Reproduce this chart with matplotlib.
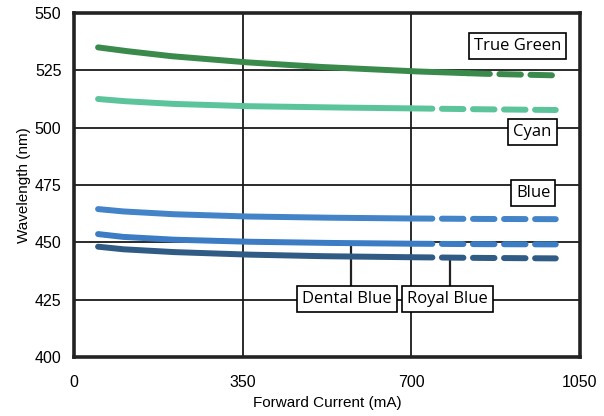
import numpy as np
import matplotlib.pyplot as plt

# Forward current sample points (mA)
current = [50, 100, 200, 350, 500, 700, 850, 1000]

# Peak wavelength (nm)
true_green = [535.0, 533.6, 531.2, 528.6, 526.6, 524.6, 523.5, 522.8]
cyan = [512.5, 511.6, 510.4, 509.4, 508.9, 508.4, 508.0, 507.7]
blue = [464.5, 463.5, 462.3, 461.3, 460.8, 460.4, 460.2, 460.1]
royal_blue = [453.6, 452.4, 451.2, 450.3, 449.8, 449.4, 449.2, 449.1]
dental_blue = [448.1, 447.0, 445.8, 444.7, 444.0, 443.5, 443.2, 443.0]

# (values, colour, current where the measured/solid part ends)
series = {
    'True Green': (true_green, '#3a8a4c', 822),
    'Cyan': (cyan, '#5cc49a', 700),
    'Blue': (blue, '#4383c8', 700),
    'Royal Blue': (royal_blue, '#3b7cc4', 700),
    'Dental Blue': (dental_blue, '#305b85', 700),
}

plt.rcParams['font.family'] = ['Liberation Sans', 'DejaVu Sans']

fig = plt.figure(figsize=(6.04, 4.16), dpi=100)
ax = fig.add_axes([0.1225, 0.1418, 0.8375, 0.8270])

x = np.array(current, dtype=float)
for name, (vals, color, solid_end) in series.items():
    xs = np.linspace(x[0], x[-1], 200)
    ys = np.interp(xs, x, np.array(vals))
    solid = xs <= solid_end
    ax.plot(xs[solid], ys[solid], color=color, lw=4.3, solid_capstyle='round', zorder=3)
    dashed = xs >= solid_end - 5
    ax.plot(xs[dashed], ys[dashed], color=color, lw=4.3, linestyle=(0, (3.6, 1.6)),
            dash_capstyle='round', zorder=3)

ax.set_xlim(0, 1050)
ax.set_ylim(400, 550)
ax.set_xticks([0, 350, 700, 1050])
ax.set_yticks([400, 425, 450, 475, 500, 525, 550])
ax.tick_params(axis='both', length=0, labelsize=11.5)
ax.tick_params(axis='x', pad=13)
ax.tick_params(axis='y', pad=9)
ax.grid(True, color='#1a1a1a', lw=1.3)
for sp in ax.spines.values():
    sp.set_linewidth(2.6)
    sp.set_color('#222222')
ax.set_xlabel('Forward Current (mA)', fontsize=11, labelpad=4)
ax.set_ylabel('Wavelength (nm)', fontsize=11, labelpad=3)

box = dict(boxstyle='square,pad=0.3', fc='white', ec='black', lw=1.2)
lab_font = ['Open Sans', 'DejaVu Sans']
ax.text(920, 535.8, 'True Green', ha='center', va='center', fontsize=12,
        family=lab_font, bbox=box, zorder=5)
ax.text(952, 497.9, 'Cyan', ha='center', va='center', fontsize=12,
        family=lab_font, bbox=box, zorder=5)
ax.text(953, 471.7, 'Blue', ha='center', va='center', fontsize=12,
        family=lab_font, bbox=box, zorder=5)
ax.text(567, 425.5, 'Dental Blue', ha='center', va='center', fontsize=12,
        family=lab_font, bbox=box, zorder=5)
ax.text(776, 425.5, 'Royal Blue', ha='center', va='center', fontsize=12,
        family=lab_font, bbox=box, zorder=5)

# leader lines from curves to the labels
ax.plot([574, 574], [431, 449.8], color='#222222', lw=1.6, zorder=2)
ax.plot([781, 781], [431, 443.3], color='#222222', lw=1.6, zorder=2)

fig.savefig('out.png', dpi=100)
